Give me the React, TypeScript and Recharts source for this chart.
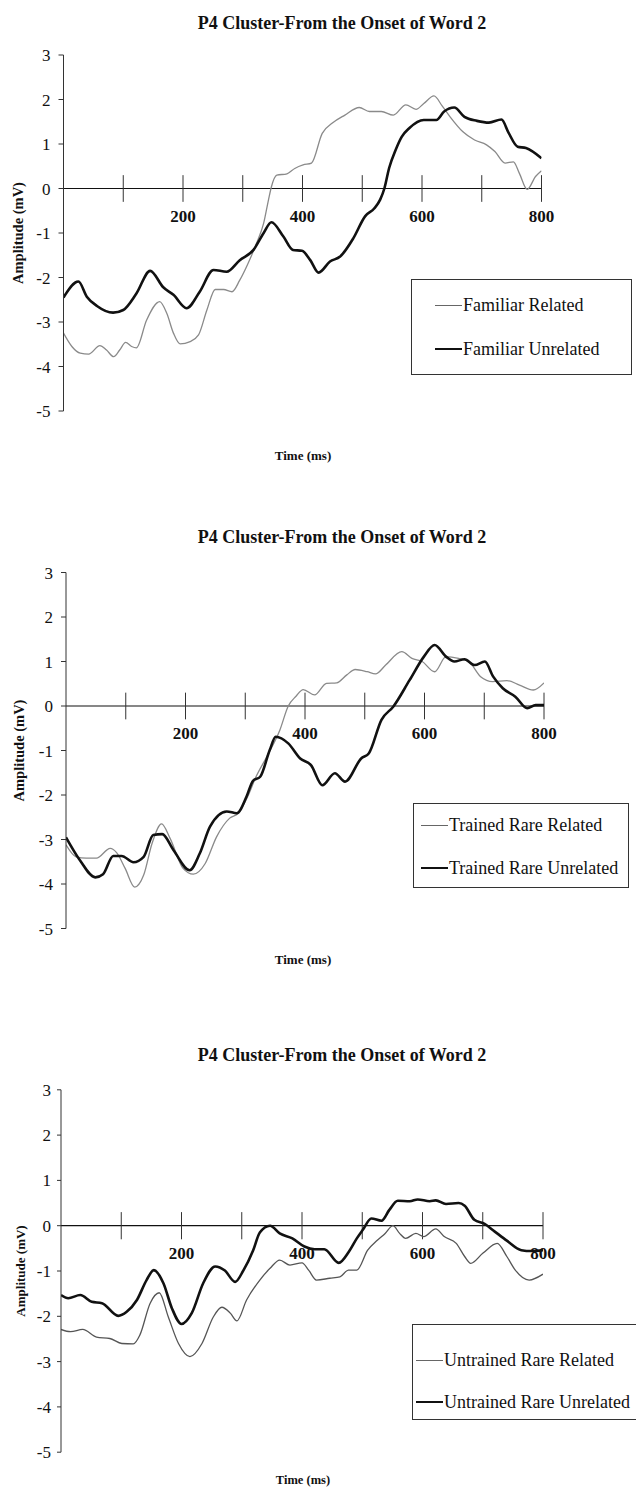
import { LineChart, Line, XAxis, YAxis, ReferenceLine, Legend } from "recharts";

const FONT = '"Liberation Serif", "Times New Roman", Times, serif';

const TITLE = "P4 Cluster-From the Onset of Word 2";
const yTicks = [-5, -4, -3, -2, -1, 0, 1, 2, 3];
const timeTicks = [100, 200, 300, 400, 500, 600, 700, 800];
const labelledTimes = [200, 400, 600, 800];

// Familiar words (ms / mV)
const famRelTime = [0, 14, 28, 42, 61, 72, 84, 94, 104, 114, 122, 139, 161, 173, 184, 195, 212, 226, 240, 254, 268, 282, 295, 309, 323, 335, 343, 348, 357, 374, 387, 401, 415, 433, 450, 471, 495, 512, 532, 552, 573, 590, 603, 620, 634, 647, 668, 688, 708, 722, 739, 753, 763, 776, 790, 800];
const famRelAmp = [-3.25, -3.55, -3.7, -3.72, -3.53, -3.63, -3.78, -3.63, -3.46, -3.55, -3.58, -2.96, -2.54, -2.81, -3.25, -3.49, -3.44, -3.29, -2.73, -2.27, -2.27, -2.32, -2.06, -1.68, -1.23, -0.78, -0.26, 0.04, 0.3, 0.33, 0.45, 0.53, 0.57, 1.24, 1.47, 1.65, 1.82, 1.73, 1.73, 1.65, 1.88, 1.78, 1.91, 2.08, 1.85, 1.61, 1.28, 1.09, 0.98, 0.83, 0.57, 0.6, 0.34, -0.02, 0.27, 0.4];
const famUnrelTime = [0, 25, 39, 56, 83, 100, 122, 145, 167, 184, 206, 228, 251, 273, 295, 318, 335, 348, 368, 384, 399, 413, 427, 446, 463, 485, 505, 520, 530, 537, 545, 556, 566, 579, 603, 624, 637, 654, 671, 692, 712, 733, 745, 760, 774, 800];
const famUnrelAmp = [-2.45, -2.09, -2.43, -2.64, -2.79, -2.73, -2.36, -1.85, -2.22, -2.39, -2.69, -2.32, -1.83, -1.87, -1.61, -1.38, -1.0, -0.76, -1.08, -1.38, -1.4, -1.61, -1.89, -1.64, -1.53, -1.12, -0.62, -0.45, -0.25, 0.0, 0.46, 0.87, 1.16, 1.36, 1.54, 1.54, 1.73, 1.82, 1.61, 1.52, 1.48, 1.55, 1.25, 0.94, 0.91, 0.68];

// Trained rare words
const trRelTime = [0, 17, 34, 51, 74, 85, 99, 115, 130, 144, 160, 174, 196, 213, 233, 252, 274, 288, 304, 318, 336, 358, 372, 385, 397, 416, 436, 453, 470, 484, 504, 518, 535, 562, 579, 596, 617, 636, 657, 674, 694, 714, 738, 759, 782, 800];
const trRelAmp = [-3.12, -3.39, -3.42, -3.42, -3.2, -3.3, -3.65, -4.07, -3.8, -3.09, -2.65, -2.97, -3.65, -3.78, -3.54, -2.94, -2.52, -2.41, -2.04, -1.59, -1.14, -0.54, 0.0, 0.22, 0.37, 0.25, 0.51, 0.52, 0.7, 0.82, 0.77, 0.72, 0.92, 1.22, 1.07, 1.0, 0.77, 1.11, 1.07, 1.0, 0.66, 0.55, 0.57, 0.47, 0.36, 0.52];
const trUnrelTime = [0, 23, 49, 62, 79, 93, 113, 130, 146, 161, 180, 207, 224, 241, 269, 286, 302, 313, 325, 341, 351, 372, 392, 410, 429, 450, 467, 494, 507, 528, 548, 575, 599, 617, 636, 650, 667, 684, 701, 715, 731, 752, 772, 786, 800];
const trUnrelAmp = [-2.95, -3.46, -3.85, -3.78, -3.37, -3.37, -3.51, -3.39, -2.9, -2.88, -3.24, -3.69, -3.31, -2.71, -2.37, -2.41, -2.04, -1.68, -1.59, -0.99, -0.69, -0.84, -1.18, -1.33, -1.78, -1.51, -1.7, -1.18, -1.06, -0.31, -0.01, 0.58, 1.11, 1.37, 1.11, 1.0, 1.05, 0.92, 1.0, 0.66, 0.4, 0.21, -0.05, 0.02, 0.02];

// Untrained rare words
const unRelTime = [0, 16, 36, 59, 81, 101, 120, 131, 148, 163, 178, 195, 214, 234, 253, 267, 281, 292, 308, 330, 347, 363, 380, 400, 411, 424, 446, 463, 477, 491, 509, 525, 538, 551, 562, 572, 589, 602, 622, 636, 656, 670, 680, 700, 724, 740, 754, 777, 800];
const unRelAmp = [-2.29, -2.34, -2.29, -2.46, -2.49, -2.6, -2.61, -2.41, -1.71, -1.48, -2.01, -2.6, -2.89, -2.6, -2.01, -1.8, -1.93, -2.1, -1.64, -1.2, -0.94, -0.76, -0.87, -0.82, -0.98, -1.2, -1.16, -1.13, -0.98, -0.98, -0.54, -0.32, -0.17, 0.0, -0.17, -0.28, -0.17, -0.24, -0.07, -0.24, -0.39, -0.68, -0.83, -0.61, -0.39, -0.68, -0.98, -1.2, -1.07];
const unUnrelTime = [0, 12, 32, 51, 68, 95, 109, 126, 142, 154, 170, 184, 200, 217, 236, 256, 272, 289, 303, 319, 330, 347, 363, 384, 404, 421, 437, 461, 478, 491, 501, 515, 532, 545, 559, 579, 592, 612, 622, 639, 660, 670, 686, 703, 720, 740, 764, 781, 800];
const unUnrelAmp = [-1.53, -1.6, -1.53, -1.68, -1.71, -1.99, -1.9, -1.64, -1.2, -0.98, -1.27, -1.82, -2.17, -1.93, -1.27, -0.9, -0.99, -1.24, -0.98, -0.54, -0.15, 0.0, -0.17, -0.28, -0.46, -0.52, -0.52, -0.82, -0.57, -0.28, -0.09, 0.16, 0.11, 0.35, 0.55, 0.54, 0.58, 0.54, 0.56, 0.48, 0.5, 0.44, 0.13, 0.04, -0.13, -0.33, -0.54, -0.56, -0.54];

type Series = { name: string; data: { t: number; v: number }[]; color: string; key: string; width: number };

const zip = (time: number[], amp: number[]) => time.map((t, i) => ({ t, v: amp[i] }));

// related = thin grey trace, unrelated = heavy black trace
const thin = (name: string, time: number[], amp: number[], color = "#8a8a8a"): Series => ({
  name,
  data: zip(time, amp),
  color,
  key: "#666",
  width: 1.3,
});
const thick = (name: string, time: number[], amp: number[]): Series => ({
  name,
  data: zip(time, amp),
  color: "#111",
  key: "#111",
  width: 2.6,
});

interface LegendBoxSpec {
  left: number;
  top: number;
  width: number;
  height: number;
  padX: number;
  rows: number[];
}

interface PanelSpec {
  top: number;
  height: number;
  margin: { top: number; right: number; bottom: number; left: number };
  titleY: number;
  timeY: number;
  timeSize: number;
  ampX: number;
  ampSize: number;
  tickSize: number;
  tickMargin: number;
  legend: LegendBoxSpec;
  series: Series[];
}

const panels: PanelSpec[] = [
  {
    top: 0,
    height: 480,
    margin: { top: 55, right: 94.5, bottom: 69, left: 63.5 },
    titleY: 23,
    timeY: 456,
    timeSize: 13,
    ampX: 17.5,
    ampSize: 14.5,
    tickSize: 5,
    tickMargin: 8,
    legend: { left: 411, top: 279, width: 221, height: 96, padX: 24, rows: [25, 69] },
    series: [
      thin("Familiar Related", famRelTime, famRelAmp),
      thick("Familiar Unrelated", famUnrelTime, famUnrelAmp),
    ],
  },
  {
    top: 500,
    height: 480,
    margin: { top: 72.5, right: 92, bottom: 51.5, left: 66 },
    titleY: 37,
    timeY: 460,
    timeSize: 13,
    ampX: 19,
    ampSize: 14.5,
    tickSize: 5,
    tickMargin: 8,
    legend: { left: 413, top: 303, width: 216, height: 85, padX: 8, rows: [21, 64] },
    series: [
      thin("Trained Rare Related", trRelTime, trRelAmp),
      thick("Trained Rare Unrelated", trUnrelTime, trUnrelAmp),
    ],
  },
  {
    top: 1010,
    height: 477,
    margin: { top: 79.8, right: 93, bottom: 34.8, left: 61 },
    titleY: 45,
    timeY: 470,
    timeSize: 12.5,
    ampX: 20,
    ampSize: 13,
    tickSize: 4,
    tickMargin: 6,
    legend: { left: 412, top: 314, width: 240, height: 96, padX: 4, rows: [35, 77] },
    series: [
      thin("Untrained Rare Related", unRelTime, unRelAmp, "#555"),
      thick("Untrained Rare Unrelated", unUnrelTime, unUnrelAmp),
    ],
  },
];

const LegendBox = ({ spec, series }: { spec: LegendBoxSpec; series: Series[] }) => (
  <div
    style={{
      position: "relative",
      width: spec.width,
      height: spec.height,
      boxSizing: "border-box",
      border: "1px solid #333",
      background: "#fff",
      fontFamily: FONT,
      fontSize: 18,
      color: "#111",
    }}
  >
    {series.map((s, i) => (
      <div
        key={s.name}
        style={{
          position: "absolute",
          left: spec.padX - 1,
          top: spec.rows[i] - 11,
          height: 22,
          lineHeight: "22px",
          display: "flex",
          alignItems: "center",
          whiteSpace: "nowrap",
        }}
      >
        <span
          style={{
            display: "inline-block",
            width: 27,
            height: 0,
            borderTop: `${s.width}px solid ${s.key}`,
            marginRight: 1,
          }}
        />
        {s.name}
      </div>
    ))}
  </div>
);

const Panel = ({ spec }: { spec: PanelSpec }) => {
  const { margin } = spec;
  return (
    <div style={{ position: "absolute", left: 0, top: spec.top, width: 636, height: spec.height }}>
      <div
        style={{
          position: "absolute",
          left: 142,
          width: 400,
          top: spec.titleY - 10,
          lineHeight: "20px",
          textAlign: "center",
          fontFamily: FONT,
          fontWeight: "bold",
          fontSize: 18,
          color: "#111",
        }}
      >
        {TITLE}
      </div>
      <LineChart
        width={636}
        height={spec.height}
        margin={{ top: margin.top, right: margin.right, bottom: margin.bottom, left: 0 }}
      >
        <XAxis type="number" dataKey="t" domain={[0, 800]} hide allowDataOverflow />
        <YAxis
          type="number"
          domain={[-5, 3]}
          ticks={yTicks}
          interval={0}
          width={margin.left}
          allowDataOverflow
          axisLine={{ stroke: "#333", strokeWidth: 1 }}
          tickLine={{ stroke: "#333", strokeWidth: 1 }}
          tickSize={spec.tickSize}
          tickMargin={spec.tickMargin}
          tick={{ fontSize: 17, fill: "#111", fontFamily: FONT }}
          label={(props: any) => {
            const vb = props.viewBox || {};
            const cx = spec.ampX;
            const cy = vb.y + vb.height / 2;
            return (
              <text
                x={cx}
                y={cy}
                transform={`rotate(-90 ${cx} ${cy})`}
                textAnchor="middle"
                dominantBaseline="central"
                fontFamily={FONT}
                fontWeight="bold"
                fontSize={spec.ampSize}
                fill="#111"
              >
                Amplitude (mV)
              </text>
            );
          }}
        />
        <ReferenceLine y={0} stroke="#111" strokeWidth={1.2} />
        {timeTicks.map((t) => (
          <ReferenceLine
            key={t}
            segment={[
              { x: t, y: -0.3 },
              { x: t, y: 0.3 },
            ]}
            stroke="#333"
            strokeWidth={1}
            label={
              labelledTimes.includes(t)
                ? {
                    value: String(t),
                    position: "bottom",
                    offset: 8,
                    fill: "#111",
                    fontSize: 17,
                    fontWeight: "bold",
                    fontFamily: FONT,
                  }
                : undefined
            }
          />
        ))}
        {spec.series.map((s) => (
          <Line
            key={s.name}
            data={s.data}
            dataKey="v"
            name={s.name}
            type="monotone"
            stroke={s.color}
            strokeWidth={s.width}
            dot={false}
            activeDot={false}
            isAnimationActive={false}
          />
        ))}
        <Legend
          layout="vertical"
          align="center"
          verticalAlign="middle"
          wrapperStyle={{ left: spec.legend.left, top: spec.legend.top, width: spec.legend.width, height: spec.legend.height }}
          content={() => <LegendBox spec={spec.legend} series={spec.series} />}
        />
      </LineChart>
      <div
        style={{
          position: "absolute",
          left: 203,
          width: 200,
          top: spec.timeY - 8,
          lineHeight: "16px",
          textAlign: "center",
          fontFamily: FONT,
          fontWeight: "bold",
          fontSize: spec.timeSize,
          color: "#111",
        }}
      >
        Time (ms)
      </div>
    </div>
  );
};

export default function App() {
  return (
    <div
      style={{
        position: "absolute",
        left: 0,
        top: 0,
        width: 636,
        height: 1487,
        overflow: "hidden",
        background: "#fff",
      }}
    >
      {panels.map((p, i) => (
        <Panel key={i} spec={p} />
      ))}
    </div>
  );
}
